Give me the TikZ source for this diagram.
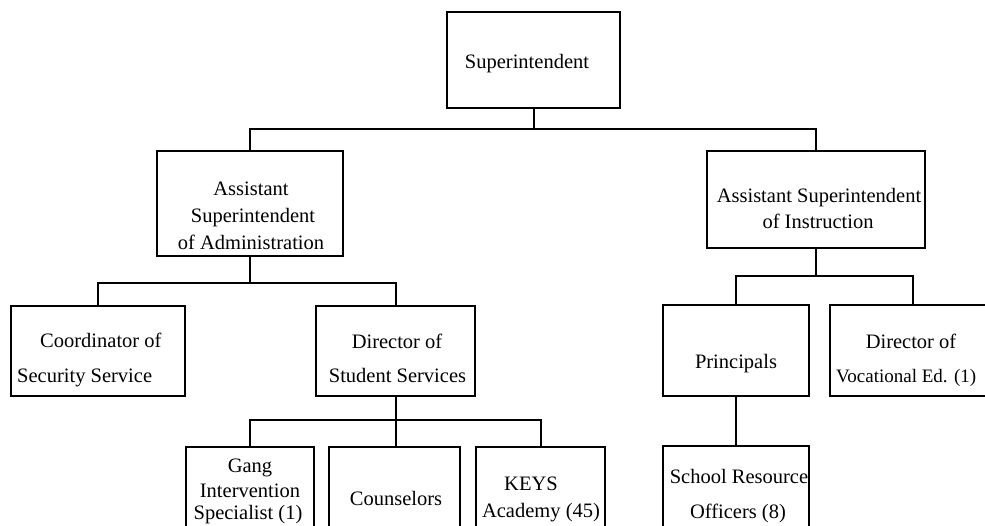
\documentclass[tikz,border=0pt]{standalone}
\usepackage{fontspec}
\setmainfont{Liberation Serif}
\begin{document}
\begin{tikzpicture}[x=1pt,y=-1pt,
  box/.style={draw, line width=2pt, inner sep=0pt, rectangle},
  txt/.style={inner sep=0pt, anchor=base, font=\fontsize{20.5}{24}\selectfont},
  txtl/.style={txt, anchor=base west},
  wire/.style={line width=2pt}]
\useasboundingbox (0,0) rectangle (985,525);
\fill[white] (0,0) rectangle (985,525);

% boxes
\node[box, minimum width=173pt, minimum height=96pt]  (sup)   at (533.5,60)    {};
\node[box, minimum width=186pt, minimum height=105pt] (admin) at (250,203.5)   {};
\node[box, minimum width=218pt, minimum height=97pt]  (instr) at (816,199.5)   {};
\node[box, minimum width=174pt, minimum height=90pt]  (coord) at (98,351)      {};
\node[box, minimum width=159pt, minimum height=90pt]  (dss)   at (395.5,351)   {};
\node[box, minimum width=128pt, minimum height=88pt]  (gang)  at (250,491)     {};
\node[box, minimum width=131pt, minimum height=88pt]  (couns) at (394.5,491)   {};
\node[box, minimum width=129pt, minimum height=88pt]  (keys)  at (540.5,491)   {};
\node[box, minimum width=146pt, minimum height=91pt]  (princ) at (736,350.5)   {};
\node[box, minimum width=165pt, minimum height=91pt]  (voc)   at (912.5,350.5) {};
\node[box, minimum width=146pt, minimum height=89pt]  (sro)   at (736,490.5)   {};

% bus levels
\coordinate (busA) at (0,129);
\coordinate (busB) at (0,283);
\coordinate (busC) at (0,276);
\coordinate (busD) at (0,420);

% connectors
\draw[wire] (sup.south) -- (sup.south |- busA) -| (admin.north);
\draw[wire] (sup.south) -- (sup.south |- busA) -| (instr.north);
\draw[wire] (admin.south) -- (admin.south |- busB) -| (coord.north);
\draw[wire] (admin.south) -- (admin.south |- busB) -| (dss.north);
\draw[wire] (instr.south) -- (instr.south |- busC) -| (princ.north);
\draw[wire] (instr.south) -- (instr.south |- busC) -| (voc.north);
\draw[wire] (dss.south) -- (dss.south |- busD) -| (gang.north);
\draw[wire] (dss.south) -- (dss.south |- busD) -| (keys.north);
\draw[wire] (dss.south) -- (dss.south |- couns.north);
\draw[wire] (princ.south) -- (sro.north);

% labels
\node[txt] (t-sup) at (527,68) {Superintendent};

\node[txt] (t-ad1) at (251,195) {Assistant};
\node[txt] (t-ad2) at (253,222) {Superintendent};
\node[txt] (t-ad3) at (251,249) {of Administration};

\node[txt] (t-in1) at (819,202) {Assistant Superintendent};
\node[txt] (t-in2) at (818,228) {of Instruction};

\node[txtl] (t-co1) at (40,347) {Coordinator of};
\node[txtl] (t-co2) at (17,382) {Security Service};

\node[txt] (t-ds1) at (397,348) {Director of};
\node[txt] (t-ds2) at (397.5,382) {Student Services};

\node[txt] (t-ga1) at (250,472) {Gang};
\node[txt] (t-ga2) at (250,497) {Intervention};
\node[txt] (t-ga3) at (248,519) {Specialist (1)};

\node[txt] (t-cou) at (396,505) {Counselors};

\node[txt] (t-ke1) at (531,490) {KEYS};
\node[txt] (t-ke2) at (541,517) {Academy (45)};

\node[txt] (t-pri) at (736,368) {Principals};

\node[txt]  (t-vo1) at (911,348) {Director of};
\node[txtl, font=\fontsize{19}{24}\selectfont] (t-vo2) at (836,382) {Vocational Ed. (1)};

\node[txt] (t-sr1) at (739,483) {School Resource};
\node[txt] (t-sr2) at (738,518) {Officers (8)};
\end{tikzpicture}
\end{document}
